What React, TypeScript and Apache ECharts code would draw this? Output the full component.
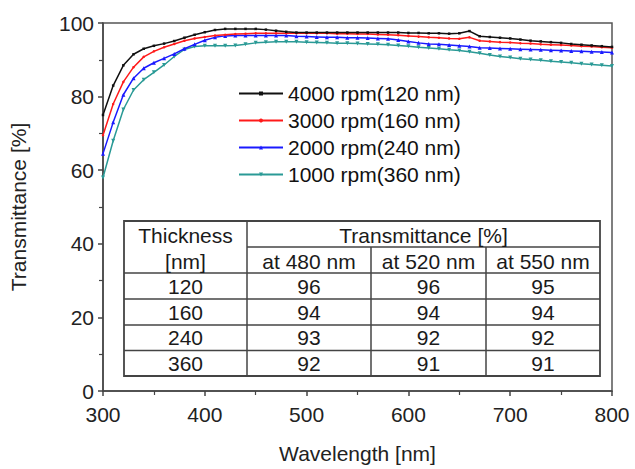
import React, { useEffect, useRef } from "react";
import * as echarts from "echarts";

const wavelengths = [300, 310, 320, 330, 340, 350, 360, 370, 380, 390, 400, 410, 420, 430, 440, 450, 460, 470, 480, 490, 500, 510, 520, 530, 540, 550, 560, 570, 580, 590, 600, 610, 620, 630, 640, 650, 660, 670, 680, 690, 700, 710, 720, 730, 740, 750, 760, 770, 780, 790, 800];

const rpm4000 = [75, 83, 88.5, 91.5, 93, 93.8, 94.4, 95.1, 96, 96.8, 97.5, 98.1, 98.4, 98.4, 98.4, 98.4, 98.2, 97.9, 97.6, 97.4, 97.4, 97.4, 97.4, 97.4, 97.4, 97.4, 97.4, 97.4, 97.4, 97.4, 97.3, 97.3, 97.2, 97.2, 97.1, 97.2, 97.8, 96.4, 96.2, 96, 95.8, 95.5, 95.2, 95, 94.8, 94.6, 94.3, 94.1, 93.9, 93.7, 93.5];
const rpm3000 = [69.5, 78, 84, 88, 90.8, 92.3, 93.4, 94.3, 95.2, 95.8, 96.2, 96.6, 96.8, 97, 97.1, 97.2, 97.2, 97.2, 97.2, 97.2, 97.2, 97.2, 97.2, 97.1, 97.1, 97, 97, 96.9, 96.8, 96.7, 96.5, 96.3, 96.1, 96, 95.8, 95.7, 96.1, 95.2, 95, 94.8, 94.7, 94.5, 94.4, 94.2, 94.1, 94, 93.9, 93.7, 93.6, 93.4, 93.3];
const rpm2000 = [64.5, 73, 80.5, 85, 87.7, 89.2, 90.4, 91.6, 93, 94.2, 95.3, 96.1, 96.5, 96.6, 96.6, 96.6, 96.6, 96.6, 96.6, 96.4, 96.3, 96.2, 96.1, 96.1, 96, 96, 95.9, 95.8, 95.7, 95.4, 95, 94.6, 94.3, 94.2, 94, 93.8, 93.6, 93.3, 93.2, 93.1, 93, 92.9, 92.8, 92.7, 92.6, 92.5, 92.4, 92.3, 92.2, 92.1, 92];
const rpm1000 = [58, 68, 76.5, 81.8, 84.6, 86.6, 88.6, 90.9, 92.8, 93.6, 93.8, 93.8, 93.8, 93.9, 94.2, 94.6, 94.8, 94.9, 94.9, 94.9, 94.8, 94.7, 94.6, 94.5, 94.5, 94.4, 94.3, 94.2, 94.1, 93.9, 93.7, 93.4, 93.2, 93, 92.7, 92.5, 92.2, 91.8, 91.3, 90.9, 90.6, 90.3, 90.1, 89.9, 89.6, 89.4, 89.2, 88.9, 88.7, 88.5, 88.3];

const seriesNames = ["4000 rpm(120 nm)", "3000 rpm(160 nm)", "2000 rpm(240 nm)", "1000 rpm(360 nm)"];
const seriesColors = ["#111111", "#ff1a1a", "#1a1aff", "#2a9a96"];
const seriesSymbols = ["rect", "circle", "triangle", "triangle"];

const tableThickness = ["120", "160", "240", "360"];
const tableHeaderCols = ["at 480 nm", "at 520 nm", "at 550 nm"];
const tableValues = [
  ["96", "96", "95"],
  ["94", "94", "94"],
  ["93", "92", "92"],
  ["92", "91", "91"],
];

const FONT = "'Liberation Sans', Arial, sans-serif";

export default function App() {
  const ref = useRef<HTMLDivElement>(null);
  useEffect(() => {
    if (!ref.current) return;
    const chart = echarts.init(ref.current, undefined, { renderer: "svg" });
    const all = [rpm4000, rpm3000, rpm2000, rpm1000];

    // table geometry
    const colX = [124, 247, 371, 486, 600];
    const rowY = [221, 273, 299, 325, 350.5, 376];
    const midHeader = 247;
    const lineStyle = { stroke: "#444", lineWidth: 1.5 };
    const g: any[] = [];
    g.push({ type: "rect", shape: { x: colX[0], y: rowY[0], width: colX[4] - colX[0], height: rowY[5] - rowY[0] }, style: { fill: "#fff", stroke: "#444", lineWidth: 1.8 } });
    g.push({ type: "line", shape: { x1: colX[1], y1: rowY[0], x2: colX[1], y2: rowY[5] }, style: lineStyle });
    g.push({ type: "line", shape: { x1: colX[2], y1: midHeader, x2: colX[2], y2: rowY[5] }, style: lineStyle });
    g.push({ type: "line", shape: { x1: colX[3], y1: midHeader, x2: colX[3], y2: rowY[5] }, style: lineStyle });
    g.push({ type: "line", shape: { x1: colX[1], y1: midHeader, x2: colX[4], y2: midHeader }, style: lineStyle });
    for (let r = 1; r < 5; r++) {
      g.push({ type: "line", shape: { x1: colX[0], y1: rowY[r], x2: colX[4], y2: rowY[r] }, style: lineStyle });
    }
    const txt = (text: string, x: number, y: number) => ({
      type: "text",
      x,
      y,
      style: { text, fill: "#1a1a1a", font: `21px ${FONT}`, align: "center", verticalAlign: "middle" },
    });
    g.push(txt("Thickness", (colX[0] + colX[1]) / 2, 235));
    g.push(txt("[nm]", (colX[0] + colX[1]) / 2, 261));
    g.push(txt("Transmittance [%]", (colX[1] + colX[4]) / 2, 235));
    tableHeaderCols.forEach((h, i) => g.push(txt(h, (colX[i + 1] + colX[i + 2]) / 2, 261)));
    tableThickness.forEach((t, r) => {
      const cy = (rowY[r + 1] + rowY[r + 2]) / 2;
      g.push(txt(t, (colX[0] + colX[1]) / 2, cy));
      tableValues[r].forEach((v, c) => g.push(txt(v, (colX[c + 1] + colX[c + 2]) / 2, cy)));
    });

    chart.setOption({
      animation: false,
      backgroundColor: "#fff",
      grid: { left: 103, right: 23, top: 23, bottom: 71, show: true, borderColor: "#555", borderWidth: 1.5, backgroundColor: "transparent" },
      legend: {
        orient: "vertical",
        left: 233,
        top: 78,
        itemWidth: 44,
        itemHeight: 5,
        itemGap: 6,
        data: seriesNames,
        textStyle: { fontSize: 21, fontFamily: FONT, color: "#111" },
      },
      xAxis: {
        type: "value",
        min: 300,
        max: 800,
        interval: 100,
        name: "Wavelength [nm]",
        nameLocation: "middle",
        nameGap: 52,
        nameTextStyle: { fontSize: 21, fontFamily: FONT, color: "#222" },
        axisLine: { lineStyle: { color: "#444", width: 1.5 } },
        axisTick: { show: true, length: 5, lineStyle: { color: "#444", width: 1.5 } },
        minorTick: { show: true, splitNumber: 2, length: 4, lineStyle: { color: "#444", width: 1.2 } },
        axisLabel: { fontSize: 21, fontFamily: FONT, color: "#222", margin: 13 },
        splitLine: { show: false },
      },
      yAxis: {
        type: "value",
        min: 0,
        max: 100,
        interval: 20,
        name: "Transmittance [%]",
        nameLocation: "middle",
        nameGap: 74,
        nameTextStyle: { fontSize: 21, fontFamily: FONT, color: "#222" },
        axisLine: { show: true, lineStyle: { color: "#444", width: 1.5 } },
        axisTick: { show: true, length: 5, lineStyle: { color: "#444", width: 1.5 } },
        minorTick: { show: true, splitNumber: 2, length: 4, lineStyle: { color: "#444", width: 1.2 } },
        axisLabel: { fontSize: 21, fontFamily: FONT, color: "#222", margin: 9 },
        splitLine: { show: false },
      },
      series: seriesNames.map((name, i) => ({
        name,
        type: "line",
        data: wavelengths.map((w, j) => [w, all[i][j]]),
        symbol: seriesSymbols[i],
        symbolSize: i >= 2 ? 4 : 2.5,
        symbolRotate: i === 3 ? 180 : 0,
        showSymbol: true,
        lineStyle: { color: seriesColors[i], width: 1.5 },
        itemStyle: { color: seriesColors[i] },
        z: 10 - i,
      })),
      graphic: g,
    });
    return () => chart.dispose();
  }, []);
  return <div ref={ref} style={{ width: 635, height: 469, position: "absolute", left: 0, top: 0 }} />;
}
